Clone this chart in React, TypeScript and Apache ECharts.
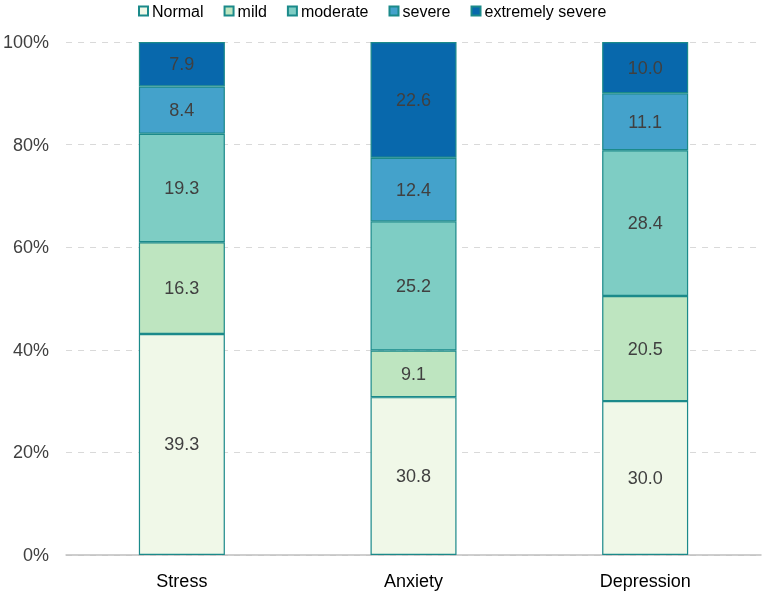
import React, { useEffect, useRef } from "react";
import * as echarts from "echarts";

const categories = ["Stress", "Anxiety", "Depression"];
const seriesNames = ["Normal", "mild", "moderate", "severe", "extremely severe"];
const normal = [39.3, 30.8, 30.0];
const mild = [16.3, 9.1, 20.5];
const moderate = [19.3, 25.2, 28.4];
const severe = [8.4, 12.4, 11.1];
const extremelySevere = [7.9, 22.6, 10.0];
const colors = ["#F0F8E8", "#BEE5C0", "#7ECDC4", "#44A2CB", "#0868AC"];
const yTicks = [0, 20, 40, 60, 80, 100];

export default function App() {
  const ref = useRef<HTMLDivElement>(null);
  useEffect(() => {
    if (!ref.current) return;
    const chart = echarts.init(ref.current, null, { renderer: "svg" });
    const raw = [normal, mild, moderate, severe, extremelySevere];
    const totals = categories.map((_, i) => raw.reduce((s, arr) => s + arr[i], 0));
    const font = "'Liberation Sans', Arial, sans-serif";
    chart.setOption({
      animation: false,
      textStyle: { fontFamily: font },
      legend: {
        top: -2,
        left: 133,
        itemWidth: 9,
        itemHeight: 9,
        itemGap: 20,
        icon: "rect",
        textStyle: { fontSize: 16, color: "#000", fontFamily: font, padding: [0, 0, 0, -1] },
        data: seriesNames,
      },
      grid: { left: 61, right: 4, top: 42, bottom: 40, containLabel: false },
      xAxis: {
        type: "category",
        data: categories,
        axisLine: { lineStyle: { color: "#BFBFBF", width: 1.5 } },
        axisTick: { show: false },
        axisLabel: { fontSize: 18, color: "#000", margin: 17, fontFamily: font },
      },
      yAxis: {
        type: "value",
        min: 0,
        max: 100,
        interval: 20,
        axisLine: { show: false },
        axisTick: { show: false },
        axisLabel: {
          fontSize: 18,
          color: "#404040",
          margin: 17,
          fontFamily: font,
          formatter: (v: number) => (yTicks.includes(v) ? v + "%" : ""),
        },
        splitLine: { lineStyle: { color: "#D9D9D9", type: [6, 6], width: 1 } },
      },
      series: seriesNames.map((name, si) => ({
        name,
        type: "bar",
        stack: "total",
        barWidth: 86,
        itemStyle: { color: colors[si], borderColor: "#1B8A8A", borderWidth: 1.2 },
        label: {
          show: true,
          position: "inside",
          fontSize: 18,
          color: "#404040",
          fontFamily: font,
          formatter: (p: any) => raw[si][p.dataIndex].toFixed(1),
        },
        data: raw[si].map((v, i) => (v / totals[i]) * 100),
      })),
    });
    return () => chart.dispose();
  }, []);
  return <div ref={ref} style={{ position: "fixed", left: 0, top: 0, width: 765, height: 595 }} />;
}
